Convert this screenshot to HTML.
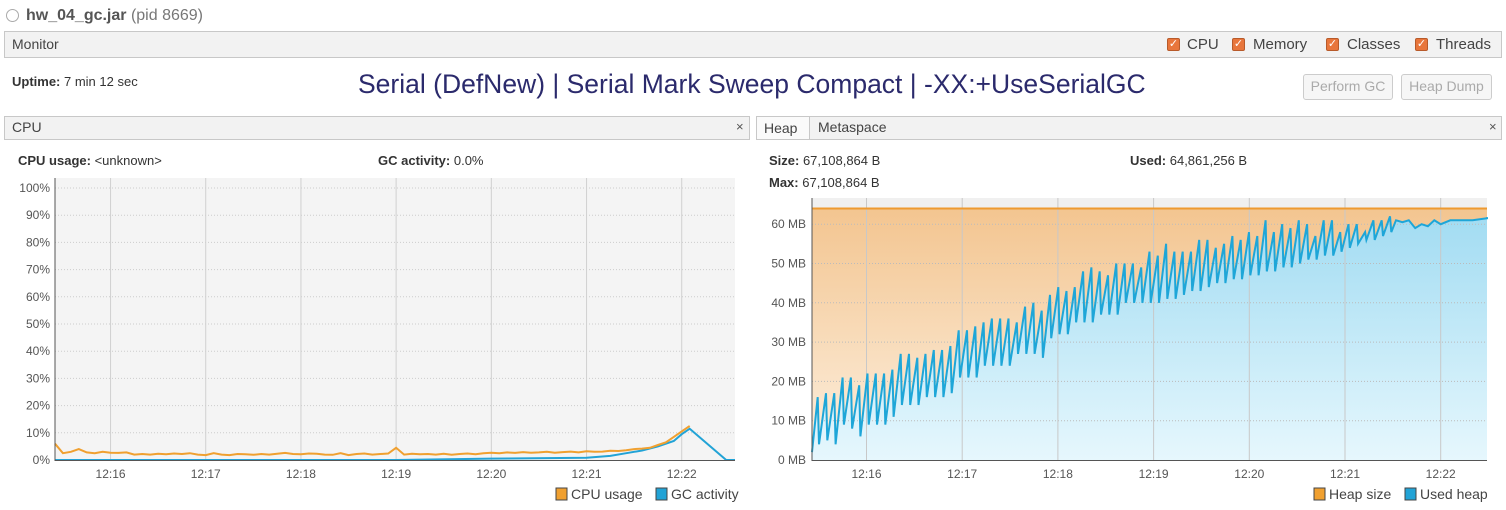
<!DOCTYPE html>
<html><head><meta charset="utf-8"><style>
body{margin:0;width:1506px;height:510px;background:#fff;font-family:"Liberation Sans",sans-serif;color:#333;position:relative;overflow:hidden}
.a{position:absolute;white-space:nowrap}
.bar{position:absolute;background:#f2f2f2;border:1px solid #c8c8c8;box-sizing:border-box}
.cb{position:absolute;width:13px;height:13px;background:#e8763c;border:1px solid #b85a2a;border-radius:2px;box-sizing:border-box;color:#fff;font-size:11px;line-height:11px;text-align:center}
.btn{position:absolute;border:1px solid #ccc;border-radius:3px;background:#f6f6f6;color:#aaa;font-size:14px;text-align:center;line-height:23px;box-sizing:border-box}
b{color:#333}
</style></head><body>
<div class="a" style="left:6px;top:9px;width:11px;height:11px;border:1.5px solid #aaa;border-radius:50%"></div>
<div class="a" style="left:26px;top:7px;font-size:16px;color:#777"><b style="color:#555">hw_04_gc.jar</b> (pid 8669)</div>
<div class="bar" style="left:4px;top:31px;width:1498px;height:27px"></div>
<div class="a" style="left:12px;top:36px;font-size:14px;color:#444">Monitor</div>
<div class="cb" style="left:1167px;top:38px">✓</div><div class="a" style="left:1187px;top:36px;font-size:15px;color:#444">CPU</div>
<div class="cb" style="left:1232px;top:38px">✓</div><div class="a" style="left:1253px;top:36px;font-size:15px;color:#444">Memory</div>
<div class="cb" style="left:1326px;top:38px">✓</div><div class="a" style="left:1347px;top:36px;font-size:15px;color:#444">Classes</div>
<div class="cb" style="left:1415px;top:38px">✓</div><div class="a" style="left:1436px;top:36px;font-size:15px;color:#444">Threads</div>
<div class="a" style="left:12px;top:74px;font-size:13px"><b>Uptime:</b> 7 min 12 sec</div>
<div class="a" style="left:358px;top:69px;font-size:26.5px;color:#2b2a6c">Serial (DefNew) | Serial Mark Sweep Compact | -XX:+UseSerialGC</div>
<div class="btn" style="left:1303px;top:74px;width:90px;height:26px">Perform GC</div>
<div class="btn" style="left:1401px;top:74px;width:91px;height:26px">Heap Dump</div>
<div class="bar" style="left:4px;top:116px;width:746px;height:24px"></div>
<div class="a" style="left:12px;top:119px;font-size:14px;color:#444">CPU</div>
<div class="a" style="left:736px;top:119px;font-size:13px;color:#555">×</div>
<div class="bar" style="left:756px;top:116px;width:746px;height:24px"></div>
<div class="a" style="left:757px;top:117px;width:53px;height:22px;background:#fafafa;border-right:1px solid #c8c8c8;font-size:14px;color:#444;padding-left:7px;line-height:22px;box-sizing:border-box">Heap</div>
<div class="a" style="left:818px;top:119px;font-size:14px;color:#444">Metaspace</div>
<div class="a" style="left:1489px;top:119px;font-size:13px;color:#555">×</div>
<div class="a" style="left:18px;top:153px;font-size:13px"><b>CPU usage:</b> &lt;unknown&gt;</div>
<div class="a" style="left:378px;top:153px;font-size:13px"><b>GC activity:</b> 0.0%</div>
<div class="a" style="left:769px;top:153px;font-size:13px"><b>Size:</b> 67,108,864 B</div>
<div class="a" style="left:769px;top:175px;font-size:13px"><b>Max:</b> 67,108,864 B</div>
<div class="a" style="left:1130px;top:153px;font-size:13px"><b>Used:</b> 64,861,256 B</div>
<svg id="s" width="1506" height="510" style="position:absolute;left:0;top:0"></svg>
<script>
// time in seconds after 12:15:00
const cpuTickLabels=["12:16","12:17","12:18","12:19","12:20","12:21","12:22"];
const cpuYTicks=[0,10,20,30,40,50,60,70,80,90,100];
const cpuStart=25, cpuStep=5;
const cpuUsage=[6,2.5,3,4,2.8,2.5,3,2.7,2.6,2.8,2,2.2,2,2.3,2.1,2.4,2.2,2.5,2,1.8,2.5,2,1.8,2.2,2.1,1.9,2.2,2,2.3,2.6,2.2,2.1,2.4,2.3,2,1.9,2.5,1.8,2.2,2.4,2,2.2,2.4,4.5,2,2.3,2.1,2.2,2,2.3,1.9,2.2,2.4,2.1,2.5,2.7,2.5,2.8,2.6,2.9,2.7,2.8,3,2.7,2.9,3.1,2.8,3.2,3,3.1,3.4,3.3,3.6,4,4.2,4.5,5.5,6.5,8.5,10.5,12.5];
const gcTimes=[25,240,300,360,375,385,395,405,415,420,425,448];
const gcValues=[0,0,0.5,0.8,1.5,2.5,3.5,5,7,9.5,11.5,0];
const heapTickLabels=["12:16","12:17","12:18","12:19","12:20","12:21","12:22"];
const heapYTicks=[0,10,20,30,40,50,60];
const heapSize=64;
const toothStart=25, toothStep=5.2;
const peaks=[16,17,17,21,21,19,22,22,22,23,27,27,26,27,28,28,29,33,33,34,35,36,36,36,35,39,40,38,42,44,43,44,48,49,48,47,50,50,50,49,53,52,55,53,53,53,56,56,54,55,57,56,58,57,61,58,60,59,61,60,57,61,61,58,60,60,58,61,61,62];
const troughs=[4,5,4,9,8,6,9,9,9,11,14,14,14,16,16,16,17,21,21,21,24,24,24,24,27,27,27,26,31,32,32,35,35,35,37,37,37,40,40,40,40,40,41,41,42,43,43,44,45,45,46,46,47,47,48,48,49,49,50,51,51,52,52,53,54,55,56,56,57,58];
const tailTimes=[392,396,400,404,408,412,416,420,426,440,450,460,480,520];
const tailValues=[61,60.5,61,59,60,59.5,61,60,61,61,61.5,61.8,61.8,61.8];

const NS="http://www.w3.org/2000/svg",svg=document.getElementById('s');
function el(t,a,p){const e=document.createElementNS(NS,t);for(const k in a)e.setAttribute(k,a[k]);(p||svg).appendChild(e);return e;}
function minT(l){const p=l.split(':');return (+p[1]-15)*60;}
// CPU chart
const cx=t=>55+(t-25)*(95.2/60), cy=v=>460-v*2.72;
let r=el('rect',{x:55,y:178,width:680,height:282,fill:'#f4f4f4'});

cpuYTicks.forEach(v=>{if(v>0){let l=el('line',{x1:55,x2:735,y1:cy(v),y2:cy(v),stroke:'#ccc','stroke-dasharray':'1 2'});}
 let t=el('text',{x:50,y:cy(v)+4,'text-anchor':'end','font-size':12,fill:'#555'});t.textContent=v+'%';});
cpuTickLabels.forEach(s=>{const x=cx(minT(s));let l=el('line',{x1:x,x2:x,y1:178,y2:460,stroke:'#d0d0d0'});
 let t=el('text',{x:x,y:478,'text-anchor':'middle','font-size':12,fill:'#555'});t.textContent=s;});
let gp=gcTimes.map((t,i)=>cx(t).toFixed(1)+','+cy(gcValues[i]).toFixed(1)).join(' ')+' '+735+','+cy(0);
let gl=el('polyline',{points:gp,fill:'none',stroke:'#22a3d6','stroke-width':2});
let cp=cpuUsage.map((v,i)=>cx(cpuStart+i*cpuStep).toFixed(1)+','+cy(v).toFixed(1)).join(' ');
let cl=el('polyline',{points:cp,fill:'none',stroke:'#f0a030','stroke-width':2});
el('line',{x1:55,x2:55,y1:178,y2:461,stroke:'#555'});el('line',{x1:55,x2:735,y1:460.5,y2:460.5,stroke:'#555'});
// Heap chart
const hx=t=>812+(t-60)*(95.7/60)+54.5, hy=v=>460-v*3.93;
const HL=812,HR=1487,HT=198;
let defs=el('defs',{});
let g1=el('linearGradient',{id:'og',x1:0,y1:0,x2:0,y2:1},defs);el('stop',{offset:0,'stop-color':'#f3c590'},g1);el('stop',{offset:1,'stop-color':'#fdf0e0'},g1);
let g2=el('linearGradient',{id:'bg',x1:0,y1:0,x2:0,y2:1},defs);el('stop',{offset:0,'stop-color':'#a2dcf2'},g2);el('stop',{offset:1,'stop-color':'#e6f7fd'},g2);
let hr=el('rect',{x:HL,y:HT,width:HR-HL,height:460-HT,fill:'#f0f0f0'});
let hs=el('rect',{x:HL,y:hy(heapSize),width:HR-HL,height:460-hy(heapSize),fill:'url(#og)'});
let pts=[[HL,hy(2)]];
peaks.forEach((p,i)=>{const t0=toothStart+i*toothStep;pts.push([hx(t0+toothStep*0.85),hy(p)]);pts.push([hx(t0+toothStep),hy(troughs[i])]);});
tailTimes.forEach((t,i)=>pts.push([Math.min(hx(t),HR),hy(tailValues[i])]));
pts.push([HR,hy(tailValues[tailValues.length-1])]);
const ps=pts.map(p=>p[0].toFixed(1)+','+p[1].toFixed(1)).join(' ');
let ua=el('polygon',{points:ps+' '+HR+',460 '+HL+',460',fill:'url(#bg)'});
heapYTicks.forEach(v=>{if(v>0){let l=el('line',{x1:HL,x2:HR,y1:hy(v),y2:hy(v),stroke:'#bbb','stroke-dasharray':'1 2'});}
 let t=el('text',{x:806,y:hy(v)+4,'text-anchor':'end','font-size':12,fill:'#555'});t.textContent=v+' MB';});
heapTickLabels.forEach(s=>{const x=hx(minT(s));let l=el('line',{x1:x,x2:x,y1:HT,y2:460,stroke:'#c8c8c8'});
 let t=el('text',{x:x,y:478,'text-anchor':'middle','font-size':12,fill:'#555'});t.textContent=s;});
let hl=el('line',{x1:HL,x2:HR,y1:hy(heapSize),y2:hy(heapSize),stroke:'#ee9a30','stroke-width':2});
let ul=el('polyline',{points:ps,fill:'none',stroke:'#1ea6d8','stroke-width':2});
el('line',{x1:HL,x2:HL,y1:HT,y2:461,stroke:'#555'});el('line',{x1:HL,x2:HR,y1:460.5,y2:460.5,stroke:'#555'});
// legends
function leg(x,c,txt,name){let r=el('rect',{x:x,y:488,width:11,height:12,fill:c,stroke:'#444'});
 let t=el('text',{x:x+15,y:499,'font-size':14,fill:'#444'});t.textContent=txt;}
leg(556,'#f0a030','CPU usage','legend-cpu-usage');leg(656,'#22a3d6','GC activity','legend-gc-activity');
leg(1314,'#f0a030','Heap size','legend-heap-size');leg(1405,'#22a3d6','Used heap','legend-used-heap');
</script>
</body></html>
